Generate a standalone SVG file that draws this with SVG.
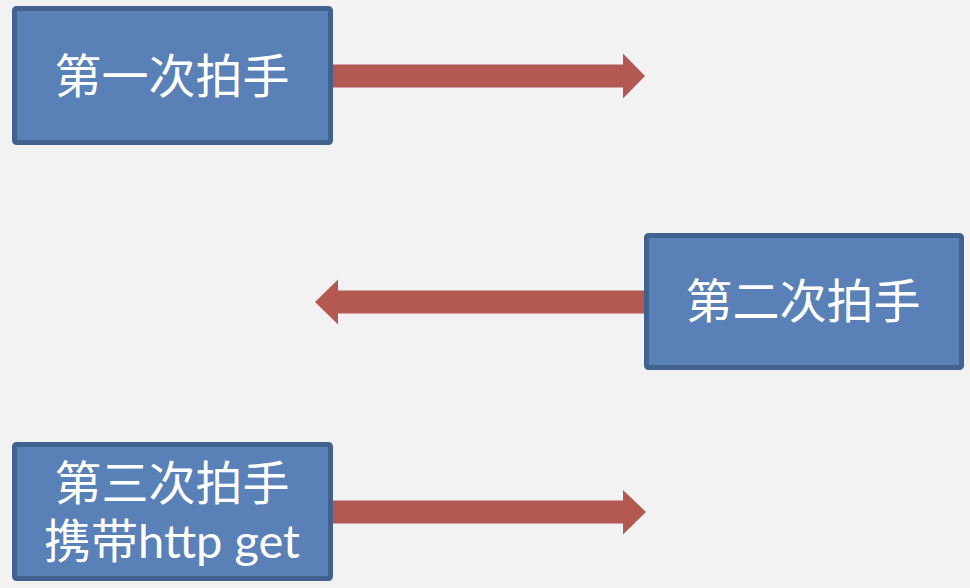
<svg xmlns="http://www.w3.org/2000/svg" width="970" height="588" viewBox="0 0 970 588">
<style>
.box{fill:#5a80b8;stroke:#41618f;stroke-width:5}
.arrow{fill:#b45952}
.lbl{fill:#ffffff;font-family:Lato,"Noto Sans CJK SC",sans-serif;font-size:47px;text-anchor:middle}
</style>
<rect width="970" height="588" fill="#f2f2f2"/>
<g id="connectors">
<polygon class="arrow" points="331,64.5 623,64.5 623,53.5 645,76 623,98.5 623,87.5 331,87.5"/>
<polygon class="arrow" points="644,290.5 338,290.5 338,279.5 315,302 338,324.5 338,313.5 644,313.5"/>
<polygon class="arrow" points="331,500.5 623,500.5 623,490 646,512 623,534.5 623,523.5 331,523.5"/>
</g>
<g id="node1">
<rect class="box" x="14.5" y="8.5" width="316" height="134" rx="2"/>
<text class="lbl" x="172" y="93">第一次拍手</text>
</g>
<g id="node2">
<rect class="box" x="646.5" y="235.5" width="315" height="132" rx="2"/>
<text class="lbl" x="803" y="318">第二次拍手</text>
</g>
<g id="node3">
<rect class="box" x="14.5" y="444.5" width="316" height="134" rx="2"/>
<text class="lbl" x="172" y="500">第三次拍手</text>
<text class="lbl" x="172" y="558">携带http get</text>
</g>
</svg>
